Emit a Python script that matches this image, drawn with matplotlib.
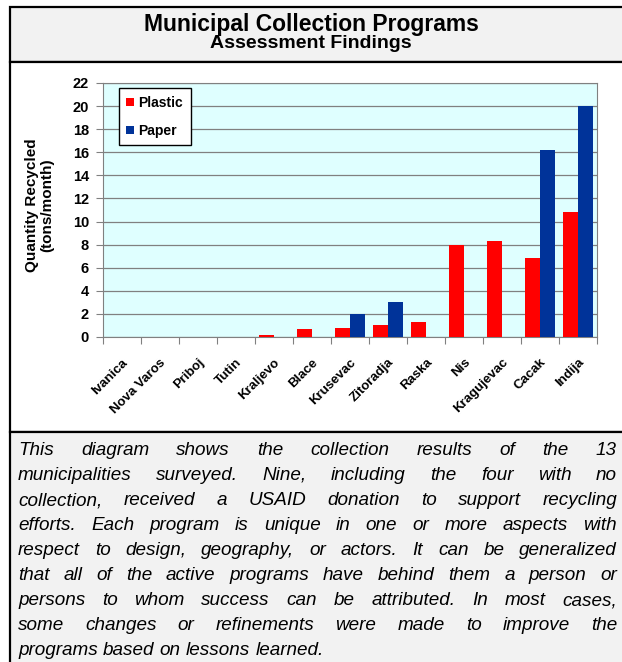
import numpy as np
import matplotlib.pyplot as plt
from matplotlib.patches import Rectangle

# data
towns = ['Ivanica', 'Nova Varos', 'Priboj', 'Tutin', 'Kraljevo', 'Blace', 'Krusevac',
         'Zitoradja', 'Raska', 'Nis', 'Kragujevac', 'Cacak', 'Indija']
plastic = [0, 0, 0, 0, 0.2, 0.73, 0.75, 1.0, 1.27, 8.0, 8.33, 6.83, 10.82]
paper = [0, 0, 0, 0, 0, 0, 1.97, 3.03, 0, 0, 0, 16.2, 20.0]
yticks = list(range(0, 23, 2))

title = 'Municipal Collection Programs'
subtitle = 'Assessment Findings'
ylabel = 'Quantity Recycled\n(tons/month)'
para_lines = [
    'This diagram shows the collection results of the 13',
    'municipalities surveyed. Nine, including the four with no',
    'collection, received a USAID donation to support recycling',
    'efforts. Each program is unique in one or more aspects with',
    'respect to design, geography, or actors. It can be generalized',
    'that all of the active programs have behind them a person or',
    'persons to whom success can be attributed. In most cases,',
    'some changes or refinements were made to improve the',
    'programs based on lessons learned.',
]

W, H = 622, 662
plt.rcParams['font.family'] = ['Liberation Sans', 'DejaVu Sans']
fig = plt.figure(figsize=(W / 100, H / 100), dpi=100)


def fx(px):
    return px / W


def fy(py):
    return 1 - py / H


# background panels with black borders
def panel(x0, y0, x1, y1, color):
    fig.patches.append(Rectangle((fx(x0), fy(y1)), fx(x1) - fx(x0), fy(y0) - fy(y1),
                                 transform=fig.transFigure, facecolor=color,
                                 edgecolor='black', linewidth=1.6, zorder=-5))


panel(10, 7, 640, 62, '#f2f2f2')
panel(10, 62, 640, 432, 'white')
panel(10, 432, 640, 680, '#f2f2f2')

fig.text(fx(311), fy(31), title, ha='center', va='baseline', fontsize=16.5, fontweight='bold')
fig.text(fx(311), fy(48), subtitle, ha='center', va='baseline', fontsize=14, fontweight='bold')

# bar chart
ax = fig.add_axes([fx(103), fy(337), fx(597) - fx(103), fy(83) - fy(337)], zorder=2)
ax.set_facecolor('#dfffff')
x = np.arange(len(towns))
w = 0.4
ax.bar(x - w / 2, plastic, w, color='#ff0000', label='Plastic', zorder=3)
ax.bar(x + w / 2, paper, w, color='#003399', label='Paper', zorder=3)

ax.set_xlim(-0.5, len(towns) - 0.5)
ax.set_ylim(0, 22)
ax.set_yticks(yticks)
ax.set_yticklabels([str(t) for t in yticks], fontsize=10.5, fontweight='bold')
ax.yaxis.grid(True, color='#808080', linewidth=0.9, zorder=1)
ax.set_axisbelow(True)
for s in ax.spines.values():
    s.set_color('#808080')
ax.tick_params(axis='y', length=5, color='#808080', pad=5)

ax.set_xticks(np.arange(len(towns) + 1) - 0.5)
ax.set_xticklabels([])
ax.tick_params(axis='x', length=5, color='#808080')
for i, t in enumerate(towns):
    ax.annotate(t, (i, 0), xycoords='data', xytext=(3, -17), textcoords='offset points',
                ha='right', va='center', rotation=45, rotation_mode='anchor',
                fontsize=9.5, fontweight='bold')

leg = ax.legend(loc='upper left', bbox_to_anchor=(0.032, 0.98), borderaxespad=0,
                fancybox=False, edgecolor='black', framealpha=1,
                handlelength=0.55, handleheight=0.55, handletextpad=0.3,
                labelspacing=1.0, borderpad=0.55,
                prop={'weight': 'bold', 'size': 10})
leg.get_frame().set_linewidth(1.0)

fig.text(fx(40), fy(205), ylabel, rotation=90, ha='center', va='center',
         fontsize=11, fontweight='bold', multialignment='center', linespacing=1.1)

# justified paragraph
renderer = fig.canvas.get_renderer()
fs = 13.6
probe = fig.text(0, 0, 'a a', fontsize=fs, style='italic')
probe2 = fig.text(0, 0, 'aa', fontsize=fs, style='italic')
space = probe.get_window_extent(renderer).width - probe2.get_window_extent(renderer).width
probe.remove()
probe2.remove()

left, right = 18, 617
base = 455
step = 25
for k, line in enumerate(para_lines):
    words = line.split()
    y = fy(base + k * step)
    items = [fig.text(0, y, wd, fontsize=fs, style='italic', va='baseline') for wd in words]
    widths = [it.get_window_extent(renderer).width for it in items]
    if k == len(para_lines) - 1:
        gap = space
    else:
        gap = (right - left - sum(widths)) / (len(words) - 1)
    pos = left
    for it, wd in zip(items, widths):
        it.set_x(fx(pos))
        pos += wd + gap

fig.savefig('out.png', dpi=100)
